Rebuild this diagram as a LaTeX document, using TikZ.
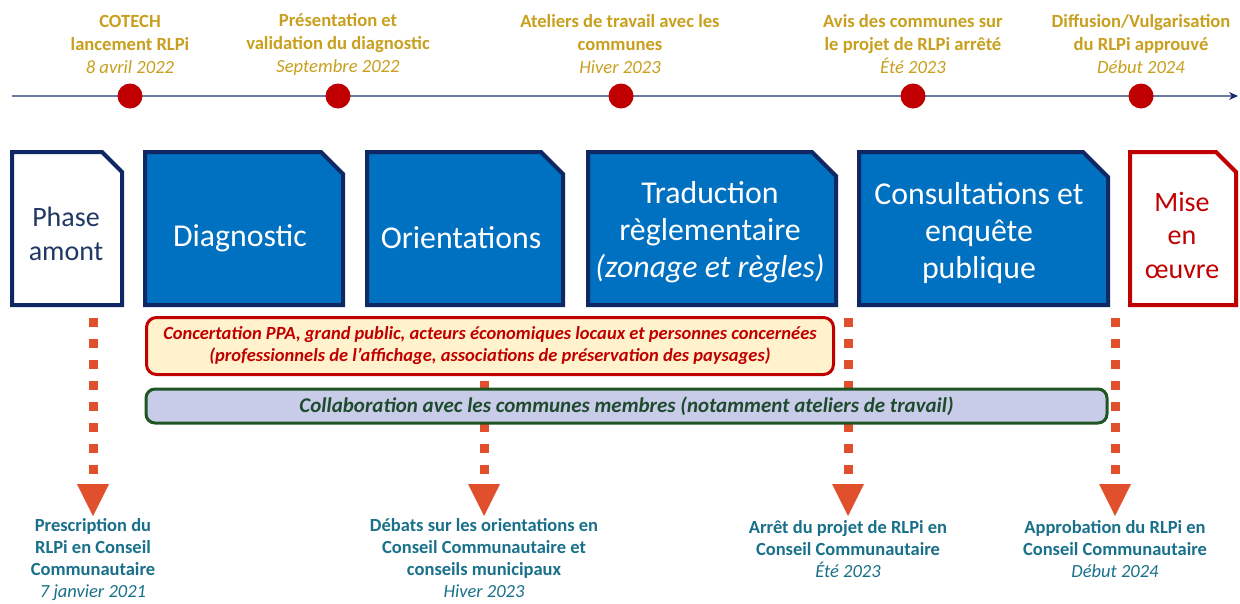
\documentclass[tikz,border=0pt]{standalone}
\usepackage{fontspec}
\setmainfont{Carlito}
\usetikzlibrary{arrows.meta}
\definecolor{goldtxt}{RGB}{200,160,30}
\definecolor{tealtxt}{RGB}{25,112,138}
\definecolor{dotorange}{RGB}{224,80,45}
\definecolor{navyb}{RGB}{15,40,100}
\definecolor{navytxt}{RGB}{31,56,100}
\definecolor{boxblue}{RGB}{0,112,192}
\definecolor{darkred}{RGB}{192,0,0}
\definecolor{paleyellow}{RGB}{255,242,204}
\definecolor{lavender}{RGB}{200,204,232}
\definecolor{darkgreen}{RGB}{30,85,35}
\definecolor{greentxt}{RGB}{30,75,45}
\definecolor{tlgrey}{RGB}{110,120,160}
\newcommand\cutbox[4]{%
  \path[#4] (#1,152) -- ({#2-#3},152) -- (#2,{152+#3}) -- (#2,305) -- (#1,305) -- cycle;}
\begin{document}
\begin{tikzpicture}[x=1pt,y=-1pt,
  toplabel/.style={font=\fontsize{18.6}{23}\selectfont\bfseries, text=goldtxt, align=center, inner sep=0pt},
  botlabel/.style={font=\fontsize{18.5}{22.2}\selectfont\bfseries, text=tealtxt, align=center, inner sep=0pt, anchor=north},
  mdot/.style={circle, fill=darkred, minimum size=25pt, inner sep=0pt},
  bluebox/.style={fill=boxblue, draw=navyb, line width=4pt, line join=miter},
  whitebox/.style={fill=white, draw=navyb, line width=4pt, line join=miter},
  redbox/.style={fill=white, draw=darkred, line width=4pt, line join=miter},
  bigtext/.style={text=white, font=\fontsize{31.8}{37.3}\selectfont, align=center, inner sep=0pt},
  sidetext/.style={font=\fontsize{28}{33.5}\selectfont, align=center, inner sep=0pt},
  dotline/.style={draw=dotorange, line width=9pt, dash pattern=on 9pt off 12pt, shorten >=2pt,
    -{Triangle[length=32pt,width=32pt,line width=0pt]}},
  concbox/.style={draw=darkred, fill=paleyellow, line width=3pt, rounded corners=10pt,
    minimum width=687pt, minimum height=57pt, text=darkred, align=center,
    font=\fontsize{18.5}{22}\selectfont\bfseries\itshape, inner sep=0pt},
  collbox/.style={draw=darkgreen, fill=lavender, line width=3pt, rounded corners=9pt,
    minimum width=961pt, minimum height=34pt, text=greentxt,
    font=\fontsize{21}{24}\selectfont\bfseries\itshape, inner sep=0pt}
]
\useasboundingbox (0,0) rectangle (1240,603);
\fill[white] (0,0) rectangle (1240,603);

% timeline
\coordinate (tls) at (12,96);
\coordinate (tle) at (1238,96);
\draw[tlgrey, line width=2.5pt, -{Stealth[length=9pt,width=8pt,line width=0pt,fill=navyb]}] (tls) -- (tle);
\node[mdot] (m1) at (130,96) {};
\node[mdot] (m2) at (338,96) {};
\node[mdot] (m3) at (621,96) {};
\node[mdot] (m4) at (913,96) {};
\node[mdot] (m5) at (1141,96) {};

\node[toplabel] (t1) at (130,44) {COTECH\\lancement RLPi\\\mdseries\itshape 8 avril 2022};
\node[toplabel] (t2) at (338,44) {Présentation et\\validation du diagnostic\\\mdseries\itshape Septembre 2022};
\node[toplabel] (t3) at (620,44) {Ateliers de travail avec les\\communes\\\mdseries\itshape Hiver 2023};
\node[toplabel] (t4) at (913,44) {Avis des communes sur\\le projet de RLPi arrêté\\\mdseries\itshape Été 2023};
\node[toplabel] (t5) at (1141,44) {Diffusion/Vulgarisation\\du RLPi approuvé\\\mdseries\itshape Début 2024};

% bottom labels
\node[botlabel] (b1) at (93,518) {Prescription du\\RLPi en Conseil\\Communautaire\\\mdseries\itshape 7 janvier 2021};
\node[botlabel] (b2) at (484,518) {Débats sur les orientations en\\Conseil Communautaire et\\conseils municipaux\\\mdseries\itshape Hiver 2023};
\node[botlabel] (b3) at (848,520) {Arrêt du projet de RLPi en\\Conseil Communautaire\\\mdseries\itshape Été 2023};
\node[botlabel] (b4) at (1115,520) {Approbation du RLPi en\\Conseil Communautaire\\\mdseries\itshape Début 2024};

% dotted connectors
\coordinate (d1) at (93,318);
\coordinate (d2) at (484,318);
\coordinate (d3) at (848,318);
\coordinate (d4) at (1115,318);
\draw[dotline] (d1) -- (b1.north);
\draw[dotline] (d2) -- (b2.north);
\draw[dotline, shorten >=4pt] (d3) -- (b3.north);
\draw[dotline, shorten >=4pt] (d4) -- (b4.north);

% phase boxes
\cutbox{12}{122}{20}{whitebox}
\cutbox{145}{343}{22}{bluebox}
\cutbox{367}{563}{22}{bluebox}
\cutbox{588}{836}{24}{bluebox}
\cutbox{859}{1108}{25}{bluebox}
\cutbox{1130}{1236}{20}{redbox}

\node[sidetext, text=navytxt] (p0) at (66,234) {Phase\\amont};
\node[bigtext] (p1) at (240,238) {Diagnostic};
\node[bigtext] (p2) at (461,238) {Orientations};
\node[bigtext] (p3) at (710,232) {Traduction\\règlementaire\\\itshape(zonage et règles)};
\node[bigtext] (p4) at (979,233) {Consultations et\\enquête\\publique};
\node[sidetext, text=darkred] (p5) at (1182,235) {Mise\\en\\œuvre};

% bands
\node[concbox] (conc) at (490,346) {Concertation PPA, grand public, acteurs économiques locaux et personnes concernées\\(professionnels de l’affichage, associations de préservation des paysages)};
\node[collbox] (coll) at (626.5,406) {Collaboration avec les communes membres (notamment ateliers de travail)};
\end{tikzpicture}
\end{document}
